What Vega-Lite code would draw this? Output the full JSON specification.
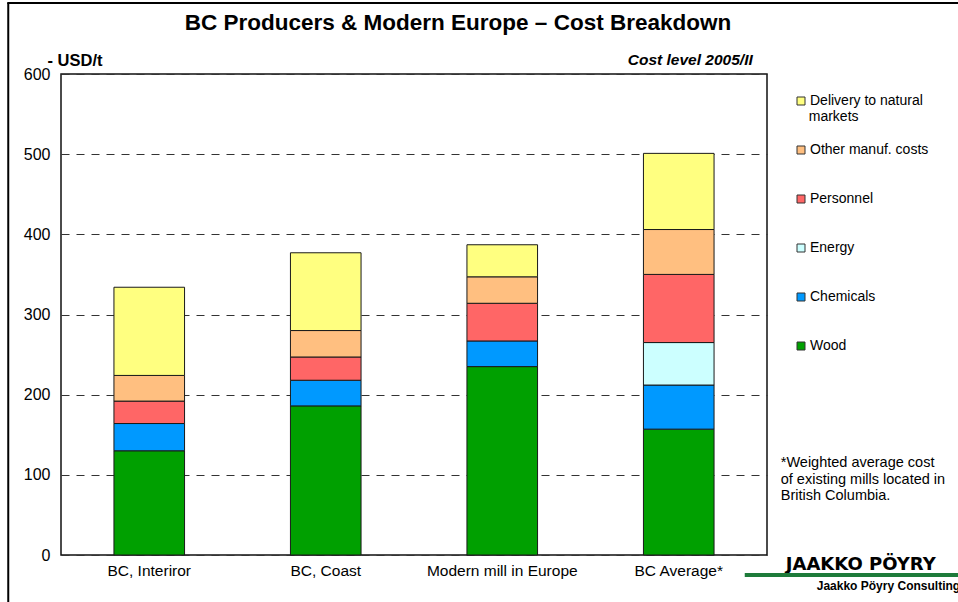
{
  "$schema": "https://vega.github.io/schema/vega-lite/v6.json",
  "width": 706,
  "height": 481,
  "autosize": {"type": "none"},
  "padding": {"left": 61, "top": 74, "right": 191, "bottom": 47},
  "background": "white",
  "title": {
    "text": "BC Producers & Modern Europe – Cost Breakdown",
    "font": "Liberation Sans",
    "fontSize": 22.5,
    "fontWeight": "bold",
    "color": "black",
    "anchor": "middle",
    "dx": 44,
    "dy": 40,
    "offset": 8
  },
  "config": {
    "view": {"stroke": "#111", "strokeWidth": 1.5},
    "font": "Liberation Sans"
  },
  "layer": [
    {
      "data": {
        "values": [
          {"producer": "BC, Interiror", "component": "Wood", "rank": 1, "cost": 130},
          {"producer": "BC, Interiror", "component": "Chemicals", "rank": 2, "cost": 34},
          {"producer": "BC, Interiror", "component": "Personnel", "rank": 4, "cost": 28},
          {"producer": "BC, Interiror", "component": "Other manuf. costs", "rank": 5, "cost": 32},
          {"producer": "BC, Interiror", "component": "Delivery to natural markets", "rank": 6, "cost": 110},
          {"producer": "BC, Coast", "component": "Wood", "rank": 1, "cost": 186},
          {"producer": "BC, Coast", "component": "Chemicals", "rank": 2, "cost": 32},
          {"producer": "BC, Coast", "component": "Personnel", "rank": 4, "cost": 29},
          {"producer": "BC, Coast", "component": "Other manuf. costs", "rank": 5, "cost": 33},
          {"producer": "BC, Coast", "component": "Delivery to natural markets", "rank": 6, "cost": 97},
          {"producer": "Modern mill in Europe", "component": "Wood", "rank": 1, "cost": 235},
          {"producer": "Modern mill in Europe", "component": "Chemicals", "rank": 2, "cost": 32},
          {"producer": "Modern mill in Europe", "component": "Personnel", "rank": 4, "cost": 47},
          {"producer": "Modern mill in Europe", "component": "Other manuf. costs", "rank": 5, "cost": 33},
          {"producer": "Modern mill in Europe", "component": "Delivery to natural markets", "rank": 6, "cost": 40},
          {"producer": "BC Average*", "component": "Wood", "rank": 1, "cost": 157},
          {"producer": "BC Average*", "component": "Chemicals", "rank": 2, "cost": 55},
          {"producer": "BC Average*", "component": "Energy", "rank": 3, "cost": 53},
          {"producer": "BC Average*", "component": "Personnel", "rank": 4, "cost": 85},
          {"producer": "BC Average*", "component": "Other manuf. costs", "rank": 5, "cost": 56},
          {"producer": "BC Average*", "component": "Delivery to natural markets", "rank": 6, "cost": 95}
        ]
      },
      "mark": {"type": "bar", "stroke": "#1a1a1a", "strokeWidth": 1},
      "encoding": {
        "x": {
          "field": "producer",
          "type": "nominal",
          "sort": ["BC, Interiror", "BC, Coast", "Modern mill in Europe", "BC Average*"],
          "scale": {"paddingInner": 0.6, "paddingOuter": 0.3},
          "axis": {
            "title": null,
            "domain": false,
            "ticks": false,
            "labelAngle": 0,
            "labelFont": "Liberation Sans",
            "labelFontSize": 15.5,
            "labelColor": "black",
            "labelPadding": 8
          }
        },
        "y": {
          "field": "cost",
          "type": "quantitative",
          "stack": "zero",
          "scale": {"domain": [0, 600], "nice": false},
          "axis": {
            "values": [0, 100, 200, 300, 400, 500, 600],
            "grid": true,
            "gridDash": [8, 7],
            "gridColor": "#333",
            "gridWidth": 1,
            "domain": false,
            "ticks": false,
            "labelFont": "Liberation Sans",
            "labelFontSize": 16,
            "labelColor": "black",
            "labelPadding": 11,
            "title": "- USD/t",
            "titleAngle": 0,
            "titleAlign": "left",
            "titleBaseline": "alphabetic",
            "titleX": -14,
            "titleY": -9,
            "titleFont": "Liberation Sans",
            "titleFontSize": 16.5,
            "titleFontWeight": "bold",
            "titleColor": "black"
          }
        },
        "order": {"field": "rank", "type": "quantitative", "sort": "ascending"},
        "color": {
          "field": "component",
          "type": "nominal",
          "sort": ["Delivery to natural markets", "Other manuf. costs", "Personnel", "Energy", "Chemicals", "Wood"],
          "scale": {
            "range": ["#FFFF80", "#FFBF80", "#FF6666", "#CCFFFF", "#0099FF", "#00A000"]
          },
          "legend": {
            "orient": "none",
            "legendX": 733,
            "legendY": 20,
            "title": null,
            "padding": 0,
            "symbolType": "square",
            "symbolSize": 64,
            "symbolStrokeColor": "#333",
            "symbolStrokeWidth": 1,
            "labelFont": "Liberation Sans",
            "labelFontSize": 14,
            "labelColor": "black",
            "labelOffset": 2,
            "labelLimit": 200,
            "rowPadding": 35,
            "labelExpr": "datum.label == 'Delivery to natural markets' ? 'Delivery to natural' : datum.label"
          }
        }
      }
    },
    {
      "data": {"values": [{"t": "Cost level 2005/II"}]},
      "mark": {"type": "text", "font": "Liberation Sans", "fontSize": 15.5, "fontWeight": "bold", "fontStyle": "italic", "align": "right", "baseline": "alphabetic", "dx": 74, "dy": -9, "color": "black"},
      "encoding": {"x": {"datum": "BC Average*"}, "y": {"datum": 600}, "text": {"field": "t"}}
    },
    {
      "data": {"values": [{"t": "markets"}]},
      "mark": {"type": "text", "font": "Liberation Sans", "fontSize": 14, "align": "left", "baseline": "middle", "dx": 130, "color": "black"},
      "encoding": {"x": {"datum": "BC Average*"}, "y": {"datum": 546}, "text": {"field": "t"}}
    },
    {
      "data": {"values": [{"t": "*Weighted average cost\nof existing mills located in\nBritish Columbia."}]},
      "mark": {"type": "text", "font": "Liberation Sans", "fontSize": 14.5, "align": "left", "baseline": "top", "lineBreak": "\n", "lineHeight": 16.5, "dx": 102, "color": "black"},
      "encoding": {"x": {"datum": "BC Average*"}, "y": {"datum": 123}, "text": {"field": "t"}}
    },
    {
      "data": {"values": [{"t": "JAAKKO PÖYRY"}]},
      "mark": {"type": "text", "font": "DejaVu Sans", "fontSize": 18, "fontWeight": "bold", "align": "left", "baseline": "middle", "dx": 107, "dy": 10, "color": "black"},
      "encoding": {"x": {"datum": "BC Average*"}, "y": {"datum": 0}, "text": {"field": "t"}}
    },
    {
      "data": {"values": [{"t": "Jaakko Pöyry Consulting"}]},
      "mark": {"type": "text", "font": "Liberation Sans", "fontSize": 12, "fontWeight": "bold", "align": "left", "baseline": "middle", "dx": 138, "dy": 31, "color": "black"},
      "encoding": {"x": {"datum": "BC Average*"}, "y": {"datum": 0}, "text": {"field": "t"}}
    },
    {
      "data": {"values": [{}]},
      "mark": {"type": "rule", "color": "#1E7B3A", "strokeWidth": 4, "xOffset": 66, "x2Offset": 290, "yOffset": 20},
      "encoding": {"x": {"datum": "BC Average*"}, "x2": {"datum": "BC Average*"}, "y": {"datum": 0}}
    },
    {
      "data": {"values": [{}]},
      "mark": {"type": "rule", "color": "black", "strokeWidth": 2, "xOffset": -141, "yOffset": -71, "y2Offset": 60},
      "encoding": {"x": {"datum": "BC, Interiror"}, "y": {"datum": 600}, "y2": {"datum": 0}}
    },
    {
      "data": {"values": [{}]},
      "mark": {"type": "rule", "color": "black", "strokeWidth": 2, "xOffset": -142, "x2Offset": 290, "yOffset": -71},
      "encoding": {"x": {"datum": "BC, Interiror"}, "x2": {"datum": "BC Average*"}, "y": {"datum": 600}}
    }
  ]
}
